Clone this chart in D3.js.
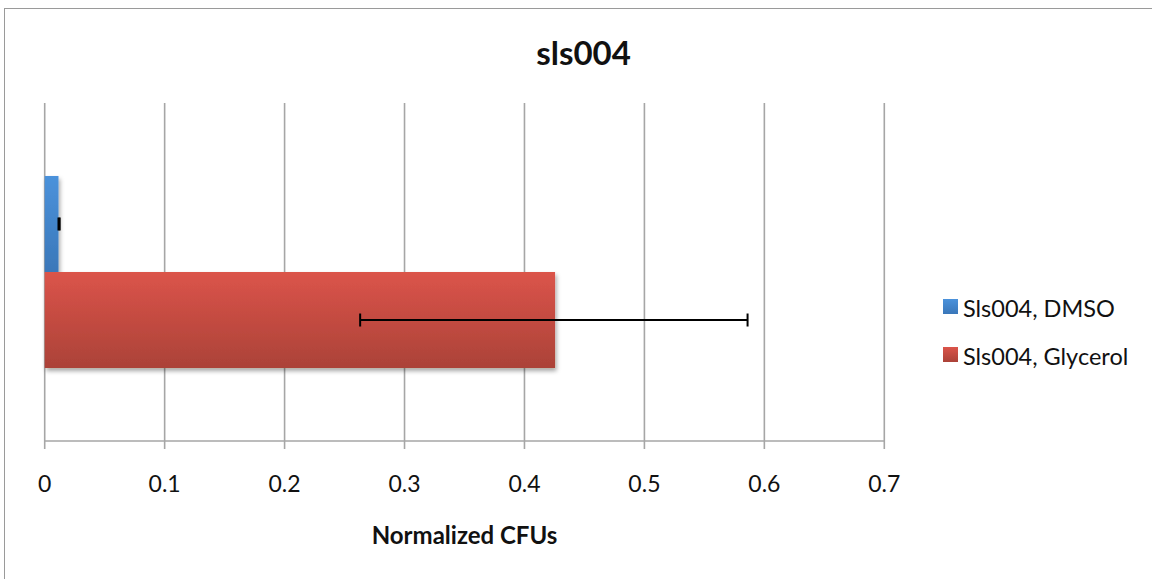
<!DOCTYPE html>
<html>
<head>
<meta charset="utf-8">
<script src="https://cdn.jsdelivr.net/npm/d3@7"></script>
<style>
  html, body { margin: 0; padding: 0; background: #fff; }
  svg { display: block; font-family: Lato, "Open Sans", sans-serif; }
</style>
</head>
<body>
<svg id="chart"></svg>
<script>
// data
const categories = ["sls004"];
const seriesNames = ["Sls004, DMSO", "Sls004, Glycerol"];
const values = [0.0115, 0.4255];
const errLow = [0.0115, 0.263];
const errHigh = [0.0125, 0.586];
const xTicks = [0, 0.1, 0.2, 0.3, 0.4, 0.5, 0.6, 0.7];

const width = 1152;
const height = 579;

const svg = d3.select("#chart").attr("width", width).attr("height", height);

const defs = svg.append("defs");

// excel-ish gradient fills
const grads = [
  { id: "g-blue", top: "#4b92db", bottom: "#3a77b9" },
  { id: "g-red", top: "#db544a", bottom: "#ab4238" },
];
grads.forEach((g) => {
  const lg = defs.append("linearGradient").attr("id", g.id)
    .attr("x1", 0).attr("y1", 0).attr("x2", 0).attr("y2", 1);
  lg.append("stop").attr("offset", "0%").attr("stop-color", g.top);
  lg.append("stop").attr("offset", "100%").attr("stop-color", g.bottom);
});

defs.append("filter").attr("id", "shadow")
  .attr("x", "-10%").attr("y", "-10%").attr("width", "130%").attr("height", "130%")
  .append("feDropShadow")
  .attr("dx", 1.5).attr("dy", 3).attr("stdDeviation", 2)
  .attr("flood-color", "#000").attr("flood-opacity", 0.35);

// outer chart border
svg.append("rect")
  .attr("x", 4.5).attr("y", 8.5)
  .attr("width", 1200).attr("height", 600)
  .attr("fill", "none").attr("stroke", "#9a9a9a").attr("stroke-width", 1);

const plot = { left: 44.7, right: 884.3, top: 103, bottom: 441 };

const x = d3.scaleLinear().domain([0, 0.7]).range([plot.left, plot.right]);

const y = d3.scaleBand().domain(categories)
  .range([plot.top, plot.bottom])
  .paddingInner(0).paddingOuter(0.38);

const ySeries = d3.scaleBand().domain(seriesNames).range([0, y.bandwidth()]);

// gridlines
svg.append("g")
  .selectAll("line")
  .data(xTicks)
  .join("line")
  .attr("x1", (d) => x(d)).attr("x2", (d) => x(d))
  .attr("y1", plot.top).attr("y2", plot.bottom + 8)
  .attr("stroke", "#a6a6a6").attr("stroke-width", 1.6);

// axis line
svg.append("line")
  .attr("x1", plot.left).attr("x2", plot.right)
  .attr("y1", plot.bottom).attr("y2", plot.bottom)
  .attr("stroke", "#a6a6a6").attr("stroke-width", 1.6);

// tick labels
svg.append("g")
  .selectAll("text")
  .data(xTicks)
  .join("text")
  .attr("x", (d) => x(d))
  .attr("y", 492)
  .attr("text-anchor", "middle")
  .attr("font-size", 23)
  .attr("fill", "#111")
  .text((d) => d3.format("")(d));

// bars
const rows = seriesNames.map((name, i) => ({
  name, value: values[i], lo: errLow[i], hi: errHigh[i], cat: categories[0],
  fill: `url(#${grads[i].id})`,
}));

const bars = svg.append("g").attr("filter", "url(#shadow)");
bars.selectAll("rect")
  .data(rows)
  .join("rect")
  .attr("x", x(0))
  .attr("y", (d) => y(d.cat) + ySeries(d.name))
  .attr("width", (d) => x(d.value) - x(0))
  .attr("height", ySeries.bandwidth())
  .attr("fill", (d) => d.fill);

// error bars
const err = svg.append("g").attr("stroke", "#000").attr("stroke-width", 2);
rows.forEach((d) => {
  const cy = y(d.cat) + ySeries(d.name) + ySeries.bandwidth() / 2;
  err.append("line").attr("x1", x(d.lo)).attr("x2", x(d.hi)).attr("y1", cy).attr("y2", cy);
  [d.lo, d.hi].forEach((v) => {
    err.append("line").attr("x1", x(v)).attr("x2", x(v)).attr("y1", cy - 6.5).attr("y2", cy + 6.5);
  });
});

// title
svg.append("text")
  .attr("x", 583.5).attr("y", 65)
  .attr("text-anchor", "middle")
  .attr("font-size", 33).attr("font-weight", "bold")
  .attr("fill", "#111")
  .text(categories[0]);

// axis title
svg.append("text")
  .attr("x", 464.5).attr("y", 544)
  .attr("text-anchor", "middle")
  .attr("font-size", 24).attr("font-weight", "bold")
  .attr("fill", "#111")
  .text("Normalized CFUs");

// legend
const legend = svg.append("g")
  .selectAll("g")
  .data(rows)
  .join("g")
  .attr("transform", (d, i) => `translate(943, ${299 + i * 48})`);

legend.append("rect")
  .attr("width", 15).attr("height", 15)
  .attr("fill", (d) => d.fill);

legend.append("text")
  .attr("x", 20).attr("y", 17.5)
  .attr("font-size", 23.5)
  .attr("fill", "#111")
  .text((d) => d.name);
</script>
</body>
</html>
